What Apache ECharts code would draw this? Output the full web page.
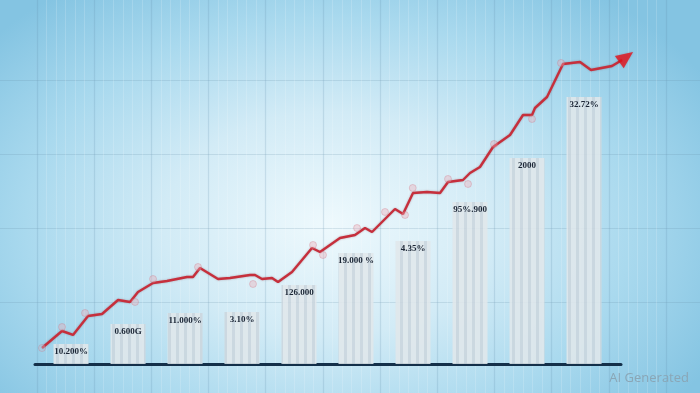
<!DOCTYPE html>
<html>
<head>
<meta charset="utf-8">
<script src="https://cdn.jsdelivr.net/npm/echarts@6/dist/echarts.min.js"></script>
<style>
  html, body { margin: 0; padding: 0; }
  body {
    width: 700px; height: 393px; overflow: hidden;
    background: radial-gradient(ellipse 62% 75% at 47% 57%, #eef9fd 0%, #d2ebf6 38%, #a9d9ee 70%, #84c4e2 100%);
  }
  #chart { width: 700px; height: 393px; }
</style>
</head>
<body>
<div id="chart"></div>
<script>
// Bars (category index positions, heights, labels as printed)
const barPositions = [0, 1, 2, 3, 4, 5, 6, 7, 8, 9];
const barValues = [6.7, 13.3, 17, 17.3, 26.3, 37, 41, 54, 68.7, 89];
const barLabels = ['10.200%', '0.600G', '11.000%', '3.10%', '126.000', '19.000 %', '4.35%', '95%.900', '2000', '32.72%'];

// Red trend line (x in category units, y in value units)
const lineX = [-0.509, -0.158, 0.035, 0.298, 0.544, 0.825, 1.035, 1.175, 1.439, 1.684,
  2.035, 2.140, 2.263, 2.579, 2.789, 3.140, 3.228, 3.351, 3.526, 3.632,
  3.877, 4.228, 4.368, 4.719, 4.982, 5.158, 5.281, 5.684, 5.825, 6.0,
  6.246, 6.474, 6.614, 6.877, 7.0, 7.175, 7.404, 7.702, 7.930, 8.088,
  8.140, 8.351, 8.632, 8.930, 9.123, 9.491, 9.667];
const lineY = [5.33, 11.0, 9.67, 16.0, 16.67, 21.33, 20.67, 24.0, 27.0, 27.67,
  29.0, 29.0, 32.0, 28.33, 28.67, 29.67, 29.67, 28.33, 28.67, 27.33,
  30.67, 38.67, 37.33, 42.0, 43.0, 45.33, 44.0, 51.67, 50.0, 57.0,
  57.33, 57.0, 60.67, 61.33, 63.67, 65.67, 72.33, 76.33, 83.0, 83.0,
  85.33, 89.0, 100.0, 100.67, 98.0, 99.33, 101.33];

// Small markers on the line
const markerX = [-0.509, -0.158, 0.246, 1.123, 1.439, 2.228, 3.193, 4.246, 4.421, 5.018,
  5.509, 5.860, 5.995, 6.614, 6.965, 7.421, 8.088, 8.596];
const markerY = [5.33, 12.33, 17.0, 20.67, 28.33, 32.33, 26.67, 39.67, 36.33, 45.33,
  50.67, 49.67, 58.67, 61.67, 60.0, 73.33, 81.67, 100.33];

// Arrow head at the end of the line
const arrowX = [9.74];
const arrowY = [102.3];

const watermark = 'AI Generated';

const chart = echarts.init(document.getElementById('chart'), null, { renderer: 'canvas' });

const pairs = (xs, ys) => xs.map((x, i) => [x, ys[i]]);
const hidden = { axisLine: { show: false }, axisTick: { show: false }, axisLabel: { show: false } };

chart.setOption({
  backgroundColor: 'transparent',
  animation: false,
  title: {
    text: watermark,
    right: 6, bottom: 3,
    textStyle: { color: '#8aa6b6', fontSize: 13, fontWeight: 'normal', fontFamily: 'Open Sans' }
  },
  grid: [
    { left: 35, right: 79, top: 34, bottom: 29 },
    { left: 0, right: 0, top: 80, bottom: 91 },
    { left: 37, right: 34, top: 0, bottom: 0 }
  ],
  xAxis: [
    {
      type: 'value', gridIndex: 0, min: -0.632, max: 9.649,
      axisLine: { show: true, onZero: true, lineStyle: { color: '#14304a', width: 3 } },
      axisTick: { show: false }, axisLabel: { show: false }, splitLine: { show: false }
    },
    Object.assign({ type: 'value', gridIndex: 1, min: 0, max: 1, splitLine: { show: false } }, hidden),
    Object.assign({
      type: 'value', gridIndex: 2, min: 0, max: 11, interval: 1,
      splitLine: { show: true, lineStyle: { color: 'rgba(95,140,170,0.2)', width: 1.2 } },
      minorTick: { show: false, splitNumber: 6 },
      minorSplitLine: { show: true, lineStyle: { color: 'rgba(255,255,255,0.16)', width: 1 } }
    }, hidden)
  ],
  yAxis: [
    Object.assign({ type: 'value', gridIndex: 0, min: 0, max: 110, splitLine: { show: false } }, hidden),
    Object.assign({
      type: 'value', gridIndex: 1, min: 0, max: 3, interval: 1,
      splitLine: { show: true, lineStyle: { color: 'rgba(100,140,165,0.2)', width: 1.2 } }
    }, hidden),
    Object.assign({ type: 'value', gridIndex: 2, min: 0, max: 1, splitLine: { show: false } }, hidden)
  ],
  series: [
    {
      type: 'bar', xAxisIndex: 0, yAxisIndex: 0,
      barWidth: 35,
      data: pairs(barPositions, barValues),
      itemStyle: {
        color: 'rgba(224,231,235,0.88)',
        decal: {
          symbol: 'rect', symbolSize: 1,
          dashArrayX: [3, 5], dashArrayY: [1, 0],
          color: 'rgba(160,180,195,0.3)'
        }
      },
      label: {
        show: true, position: 'insideTop', distance: 3,
        formatter: (p) => barLabels[p.dataIndex],
        color: '#1b2636', fontSize: 9, fontWeight: 'bold', fontFamily: 'Liberation Serif'
      },
      z: 3
    },
    {
      type: 'line', xAxisIndex: 0, yAxisIndex: 0,
      data: pairs(lineX, lineY),
      clip: false,
      showSymbol: false, symbol: 'none',
      lineStyle: { color: '#c62f3c', width: 2.4, shadowColor: 'rgba(110,20,30,0.35)', shadowBlur: 2 },
      z: 5
    },
    {
      type: 'scatter', xAxisIndex: 0, yAxisIndex: 0,
      data: pairs(markerX, markerY),
      clip: false,
      symbolSize: 7,
      itemStyle: {
        color: (p) => p.dataIndex === 0 ? 'rgba(190,190,210,0.5)' : 'rgba(238,165,178,0.45)',
        borderColor: 'rgba(205,100,115,0.35)', borderWidth: 1
      },
      z: 6
    },
    {
      type: 'scatter', xAxisIndex: 0, yAxisIndex: 0,
      data: pairs(arrowX, arrowY),
      clip: false,
      symbol: 'triangle', symbolSize: [15, 17], symbolRotate: -54,
      itemStyle: { color: '#e5121c', shadowColor: 'rgba(120,0,0,0.3)', shadowBlur: 2 },
      z: 7
    }
  ]
});
</script>
</body>
</html>
